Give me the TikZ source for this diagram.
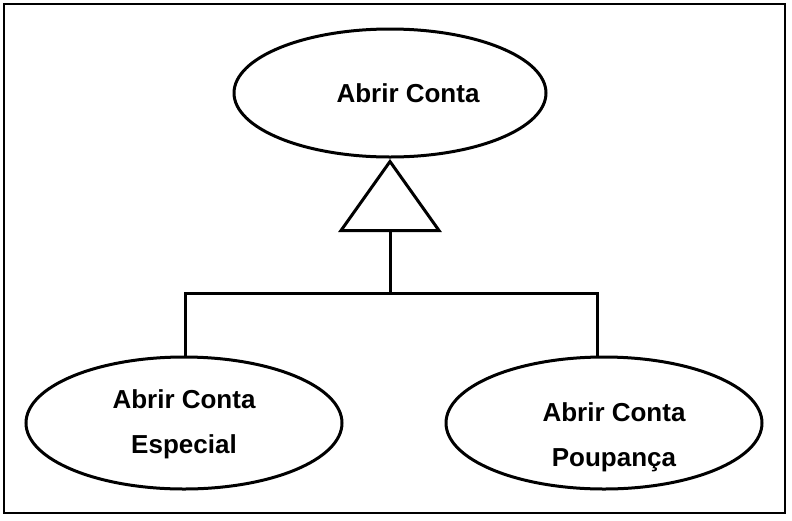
\documentclass[tikz,border=0pt]{standalone}
\usepackage{fontspec}
\setmainfont{Liberation Sans}
\usetikzlibrary{shapes.geometric}

\tikzset{
  usecase/.style={ellipse, draw=black, line width=3pt, inner sep=0pt,
    minimum width=316pt, minimum height=132pt},
  casetext/.style={font=\bfseries\fontsize{26}{45}\selectfont, align=center},
  link/.style={draw=black, line width=3pt},
}

\begin{document}
\begin{tikzpicture}[x=1pt, y=-1pt]
% Canvas and outer frame
\useasboundingbox (0,0) rectangle (792,520);
\draw[line width=1.2pt] (4,4) rectangle (785,513);
% Use cases
\node[usecase, minimum width=312pt, minimum height=128pt,
  label={[casetext, xshift=18pt]center:Abrir Conta}] (abrir) at (390,93) {};
\node[usecase,
  label={[casetext, yshift=-1pt]center:{Abrir Conta\\Especial}}] (especial) at (184,423) {};
\node[usecase,
  label={[casetext, xshift=10pt, yshift=-14pt]center:{Abrir Conta\\Poupan\c{c}a}}] (poupanca) at (604,423) {};
% Generalisation triangle
\draw[link, line join=miter] ([yshift=-3pt]abrir.south) -- ++(-49,69) coordinate (tribase) -- ++(98,0) -- cycle;
\coordinate (trimid) at ([xshift=49pt]tribase);
\coordinate (bar) at (390,293);
% Connectors
\draw[link] (trimid) -- (bar);
\draw[link] (bar) -| ([xshift=1pt]especial.north);
\draw[link] (bar) -| ([xshift=-7pt]poupanca.north);
\end{tikzpicture}
\end{document}
